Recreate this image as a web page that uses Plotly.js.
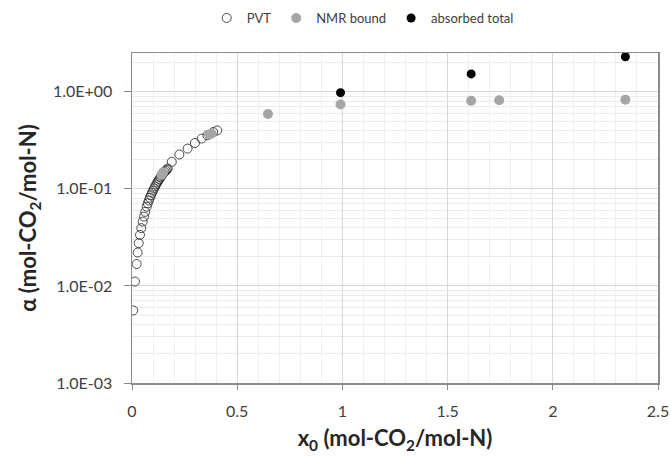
<!DOCTYPE html>
<html>
<head>
<meta charset="utf-8">
<script src="https://cdn.plot.ly/plotly-3.0.1.min.js"></script>
<style>body{margin:0;padding:0;background:#fff;} #chart{width:671px;height:456px;}</style>
</head>
<body>
<div id="chart"></div>
<script>
// PVT (open circles)
const pvtX = [0.006, 0.014, 0.022, 0.027, 0.032, 0.038, 0.044, 0.051, 0.057, 0.063, 0.070,
  0.075, 0.080, 0.085, 0.090, 0.095, 0.100, 0.105, 0.110, 0.115, 0.120, 0.125, 0.130, 0.135,
  0.140, 0.145, 0.150, 0.155, 0.160, 0.165, 0.170, 0.189, 0.225, 0.264, 0.299, 0.331, 0.358, 0.386, 0.405];
const pvtY = [0.0056, 0.0111, 0.0168, 0.0221, 0.0276, 0.0336, 0.0394, 0.046, 0.0518, 0.058, 0.0655,
  0.071, 0.076, 0.081, 0.086, 0.091, 0.096, 0.101, 0.106, 0.111, 0.116, 0.121, 0.126, 0.131,
  0.136, 0.141, 0.146, 0.150, 0.154, 0.158, 0.162, 0.19, 0.226, 0.26, 0.297, 0.33, 0.356, 0.385, 0.40];
// NMR bound (grey dots)
const nmrX = [0.140, 0.148, 0.366, 0.378, 0.646, 0.991, 1.612, 1.745, 2.345];
const nmrY = [0.140, 0.148, 0.362, 0.372, 0.59, 0.74, 0.81, 0.82, 0.83];
// absorbed total (black dots)
const absX = [0.991, 1.612, 2.345];
const absY = [0.98, 1.53, 2.30];

const yTickVals = [0.001, 0.01, 0.1, 1];
const yTickText = ['1.0E-03', '1.0E-02', '1.0E-01', '1.0E+00'];
const xTickVals = [0, 0.5, 1, 1.5, 2, 2.5];
const xTickText = ['0', '0.5', '1', '1.5', '2', '2.5'];

const yMinor = [];
[0.001, 0.01, 0.1, 1].forEach(d => { for (let k = 2; k <= 9; k++) yMinor.push(d * k); });

const font = 'Lato, "Open Sans", sans-serif';

const traces = [
  {x: pvtX, y: pvtY, name: 'PVT', type: 'scatter', mode: 'markers',
   marker: {symbol: 'circle', size: 9, color: 'rgba(255,255,255,0)', line: {color: '#222', width: 0.8}}},
  {x: nmrX, y: nmrY, name: 'NMR bound', type: 'scatter', mode: 'markers',
   marker: {symbol: 'circle', size: 10, color: '#a6a6a6'}},
  {x: absX, y: absY, name: 'absorbed total', type: 'scatter', mode: 'markers',
   marker: {symbol: 'circle', size: 9, color: '#000000'}}
];

const layout = {
  width: 671, height: 456,
  margin: {l: 132, r: 13, t: 53, b: 73, autoexpand: false},
  paper_bgcolor: '#fff', plot_bgcolor: '#fff',
  font: {family: font, color: '#595959'},
  showlegend: true,
  legend: {orientation: 'h', x: 0.142, xanchor: 'left', y: 1.106, yanchor: 'middle',
           font: {size: 13, color: '#404040'}, itemwidth: 30, tracegroupgap: 0, bgcolor: 'rgba(0,0,0,0)'},
  xaxis: {
    range: [0, 2.5], tickmode: 'array', tickvals: xTickVals, ticktext: xTickText,
    ticks: 'outside', ticklen: 5, tickcolor: '#888', tickwidth: 1, ticklabelstandoff: 8,
    showline: true, linecolor: '#8c8c8c', linewidth: 1.5, mirror: true,
    showgrid: true, gridcolor: '#d9d9d9', gridwidth: 1, zeroline: false,
    minor: {dtick: 0.1, showgrid: true, gridcolor: '#f0f0f0', gridwidth: 1, ticks: ''},
    tickfont: {size: 16, color: '#404040', family: font},
    title: {text: '<b>x<sub>0</sub> (mol-CO<sub>2</sub>/mol-N)</b>', font: {size: 22, color: '#262626', family: font}, standoff: 12}
  },
  yaxis: {
    type: 'log', range: [-3, 0.4], tickmode: 'array', tickvals: yTickVals, ticktext: yTickText,
    ticks: 'outside', ticklen: 7, tickcolor: '#888', tickwidth: 1, ticklabelstandoff: 8,
    showline: true, linecolor: '#8c8c8c', linewidth: 1.5, mirror: true,
    showgrid: true, gridcolor: '#d9d9d9', gridwidth: 1, zeroline: false,
    minor: {tickmode: 'array', tickvals: yMinor, showgrid: true, gridcolor: '#ececec', gridwidth: 1, ticks: ''},
    tickfont: {size: 16, color: '#404040', family: font},
    title: {text: '<b>α (mol-CO<sub>2</sub>/mol-N)</b>', font: {size: 22, color: '#262626', family: font}, standoff: 10}
  }
};

Plotly.newPlot('chart', traces, layout, {displayModeBar: false, staticPlot: true});
</script>
</body>
</html>
